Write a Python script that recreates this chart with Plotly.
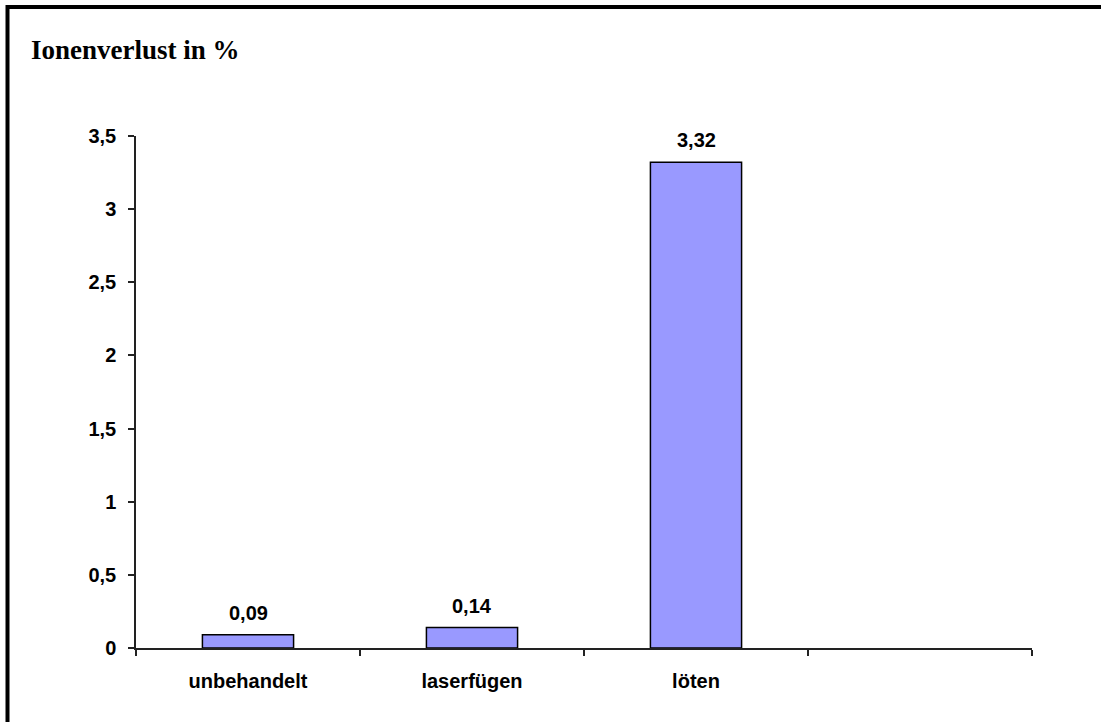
import plotly.graph_objects as go

categories = ["unbehandelt", "laserfügen", "löten"]
all_categories = ["unbehandelt", "laserfügen", "löten", " "]
values = [0.09, 0.14, 3.32]
value_labels = ["0,09", "0,14", "3,32"]
y_ticks = [0, 0.5, 1, 1.5, 2, 2.5, 3, 3.5]
y_ticktext = ["0", "0,5", "1", "1,5", "2", "2,5", "3", "3,5"]
title_text = "Ionenverlust in %"

W, H = 1101, 722
L, R, T, B = 136, 69, 136, 74
pw, ph = W - L - R, H - T - B

def px_x(p):
    return (p - L) / pw

def px_y(p):
    return (H - B - p) / ph

sans = "Arial, Liberation Sans, sans-serif"
serif = "Times New Roman, Liberation Serif, serif"

fig = go.Figure()
fig.add_trace(go.Bar(
    x=categories, y=values,
    marker=dict(color="#9999FF", line=dict(color="black", width=1.5)),
    hoverinfo="skip",
))

for c, v, t in zip(categories, values, value_labels):
    fig.add_annotation(x=c, y=v, text=t, showarrow=False, yanchor="bottom",
                       yshift=9, font=dict(family=sans, size=20, color="black", weight="bold"))

fig.add_annotation(xref="paper", yref="paper", x=px_x(29), y=px_y(50), xanchor="left", yanchor="middle",
                   text=title_text, showarrow=False,
                   font=dict(family=serif, size=27, color="black", weight="bold"))

# page border (top and left visible; right and bottom lie outside the picture)
border_path = "M {x0},{yb} L {x0},{yt} L {x1},{yt}".format(
    x0=px_x(7.5), yb=px_y(760), yt=px_y(7), x1=px_x(1160))
fig.add_shape(type="path", xref="paper", yref="paper", path=border_path,
              line=dict(color="black", width=4))

fig.update_layout(
    width=W, height=H,
    margin=dict(l=L, r=R, t=T, b=B),
    plot_bgcolor="white", paper_bgcolor="white",
    showlegend=False,
    bargap=0.593,
    xaxis=dict(type="category", categoryorder="array", categoryarray=all_categories,
               range=[-0.5, 3.5], tickson="boundaries", ticks="outside", ticklen=6, tickwidth=1.5,
               tickcolor="#222", showline=True, linecolor="#222", linewidth=1.5, showgrid=False,
               ticklabelstandoff=14,
               tickfont=dict(family=sans, size=20, color="black", weight="bold")),
    yaxis=dict(range=[0, 3.5], tickvals=y_ticks, ticktext=y_ticktext, ticks="outside", ticklen=6,
               tickwidth=1.5, tickcolor="#222", showline=True, linecolor="#222", linewidth=1.5,
               showgrid=False, zeroline=False, ticklabelstandoff=8,
               tickfont=dict(family=sans, size=20, color="black", weight="bold")),
)

fig.write_html("out.html")
